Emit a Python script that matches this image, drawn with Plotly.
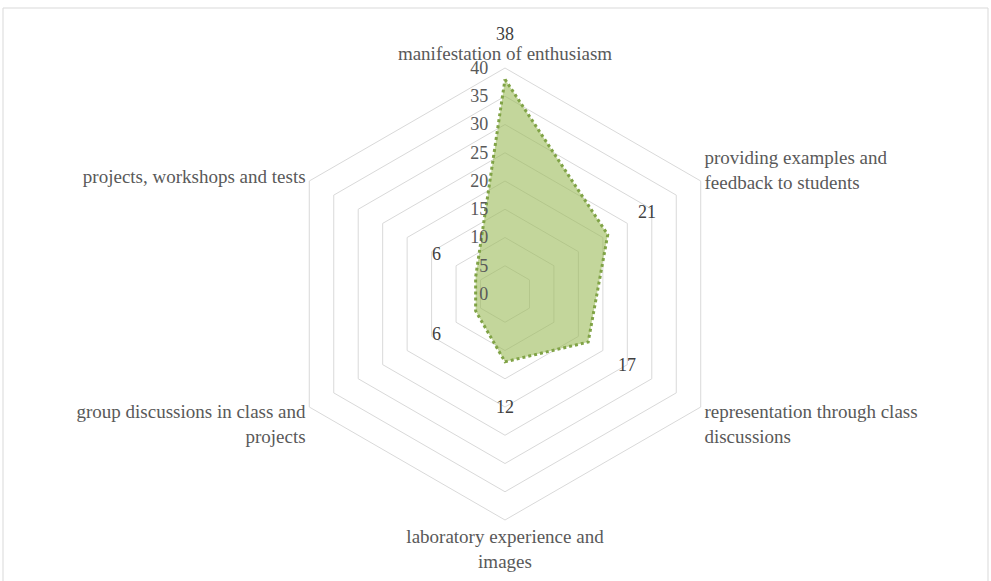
import math
import plotly.graph_objects as go

categories = ["manifestation of enthusiasm",
              "providing examples and<br>feedback to students",
              "representation through class<br>discussions",
              "laboratory experience and<br>images",
              "group discussions in class and<br>projects",
              "projects, workshops and tests"]
values = [38, 21, 17, 12, 6, 6]
radial_ticks = [0, 5, 10, 15, 20, 25, 30, 35, 40]
r_max = 40
label_offset = 8

W, H = 991, 581
cx, cy, R = 505, 294, 226
ml, mr, mt, mb = cx - R, W - (cx + R), cy - R, H - (cy + R)
FONT = "Liberation Serif"

theta = categories + [categories[0]]
r = values + [values[0]]

fig = go.Figure()
fig.add_trace(go.Scatterpolar(
    r=r, theta=theta, mode="lines", fill="toself",
    fillcolor="rgba(155,187,89,0.6)",
    line=dict(color="#80a346", width=3, dash="dot"),
    hoverinfo="skip", showlegend=False))

# data labels placed radially outside each point (polar domain -> paper coords)
n = len(values)
annotations = []
for i, v in enumerate(values):
    ang = 2 * math.pi * i / n
    frac = (v + label_offset) / r_max * 0.5
    annotations.append(dict(
        x=0.5 + frac * math.sin(ang), y=0.5 + frac * math.cos(ang),
        xref="paper", yref="paper", text=str(v), showarrow=False,
        xanchor="center", yanchor="middle",
        font=dict(family=FONT, size=18, color="#404040")))

fig.update_layout(
    width=W, height=H,
    margin=dict(l=ml, r=mr, t=mt, b=mb),
    paper_bgcolor="white",
    font=dict(family=FONT, size=19, color="#595959"),
    annotations=annotations,
    polar=dict(
        bgcolor="white",
        gridshape="linear",
        radialaxis=dict(range=[0, r_max], tickvals=radial_ticks, showline=False,
                        angle=90, tickangle=90, side="counterclockwise",
                        gridcolor="#d9d9d9", gridwidth=1,
                        ticks="outside", ticklen=10, tickcolor="rgba(0,0,0,0)",
                        tickfont=dict(family=FONT, size=18, color="#595959")),
        angularaxis=dict(rotation=90, direction="clockwise", showgrid=False,
                         linecolor="#d9d9d9", linewidth=1, ticks="",
                         tickfont=dict(family=FONT, size=19, color="#595959")),
    ),
    shapes=[dict(type="rect", xref="paper", yref="paper",
                 x0=(3 - ml) / (2 * R), x1=(988 - ml) / (2 * R),
                 y0=-(mb + 5) / (2 * R),
                 y1=(H - 8 - mb) / (2 * R),
                 line=dict(color="#d9d9d9", width=1), layer="below")],
)
fig.write_html("out.html")
